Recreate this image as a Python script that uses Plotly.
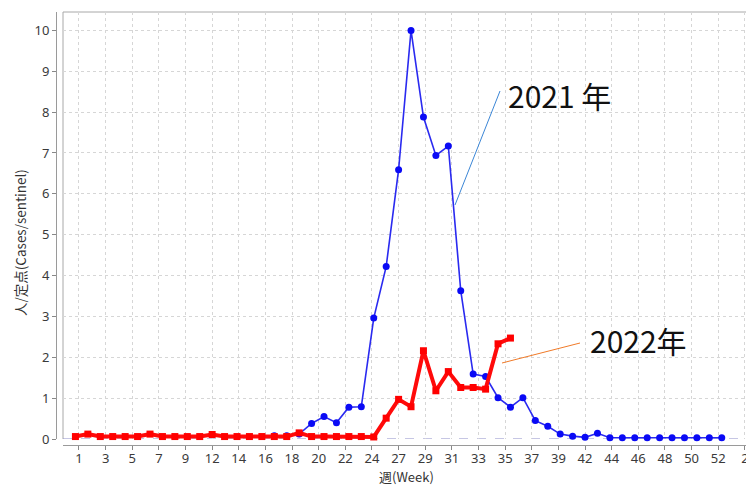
import plotly.graph_objects as go

# ---- data ----
weeks_2021 = list(range(17, 54))
cases_2021 = [0.08, 0.08, 0.12, 0.38, 0.55, 0.40, 0.78, 0.79, 2.96, 4.22,
              6.59, 10.0, 7.88, 6.94, 7.17, 3.63, 1.59, 1.53, 1.01, 0.78,
              1.01, 0.45, 0.31, 0.12, 0.07, 0.04, 0.14,
              0.03, 0.03, 0.03, 0.03, 0.03, 0.03, 0.03, 0.03, 0.03, 0.03]

weeks_2022 = list(range(1, 37))
cases_2022 = [0.06, 0.12, 0.06, 0.06, 0.06, 0.06, 0.12, 0.06, 0.06, 0.06,
              0.06, 0.11, 0.06, 0.06, 0.06, 0.06, 0.06, 0.06, 0.15, 0.06,
              0.06, 0.06, 0.06, 0.06, 0.05, 0.51, 0.97, 0.79, 2.16, 1.18,
              1.65, 1.26, 1.26, 1.22, 2.33, 2.47]

tick_labels = ["1", "3", "5", "7", "9", "12", "14", "16", "18", "20", "22", "24",
               "27", "29", "31", "33", "35", "37", "39", "42", "44", "46", "48",
               "50", "52", "2"]
# ticks every 15 days, first tick 2 days into week 1
tick_vals = [1 + (2 + 15 * i) / 7 for i in range(len(tick_labels))]

W, H = 746, 485
def px(x):
    return x / W
def py(y):
    return 1 - y / H

fig = go.Figure()
fig.add_trace(go.Scatter(
    x=weeks_2021, y=cases_2021, mode="lines+markers", name="2021",
    line=dict(color="#2a2af0", width=1.6),
    marker=dict(symbol="circle", size=7, color="#0a0af5"),
    cliponaxis=False, showlegend=False))
fig.add_trace(go.Scatter(
    x=weeks_2022, y=cases_2022, mode="lines+markers", name="2022",
    line=dict(color="#ff0a0a", width=4),
    marker=dict(symbol="square", size=7, color="#ff0000"),
    cliponaxis=False, showlegend=False))

tickfont = dict(family="Noto Sans, DejaVu Sans, sans-serif", size=13, color="#3a3a3a")

fig.update_layout(
    width=W, height=H,
    margin=dict(l=0, r=0, t=0, b=0),
    paper_bgcolor="white", plot_bgcolor="white",
    xaxis=dict(
        domain=[px(63), 1.0], range=[0.0, 54.95],
        anchor="free", position=py(445),
        tickmode="array", tickvals=tick_vals, ticktext=tick_labels,
        ticks="outside", ticklen=4, tickcolor="#888888",
        ticklabeloverflow="allow", ticklabelstandoff=-3,
        showline=True, linecolor="#9a9a9a", linewidth=1,
        showgrid=True, gridcolor="#d6d6d6", griddash="dot", gridwidth=1,
        zeroline=False, tickfont=tickfont, automargin=False,
    ),
    yaxis=dict(
        domain=[py(439), py(12)], range=[0, 10.45],
        anchor="free", position=px(56),
        tickmode="array", tickvals=list(range(0, 11)),
        ticks="outside", ticklen=4, tickcolor="#888888",
        showline=True, linecolor="#9a9a9a", linewidth=1,
        showgrid=True, gridcolor="#d6d6d6", griddash="dot", gridwidth=1,
        zeroline=False, tickfont=tickfont, automargin=False,
    ),
)

# plot outline (left and top) and dashed zero baseline
fig.add_shape(type="line", xref="paper", yref="paper",
              x0=px(63), x1=1.02, y0=py(12), y1=py(12),
              line=dict(color="#a8a8a8", width=1), layer="below")
fig.add_shape(type="line", xref="paper", yref="paper",
              x0=px(63), x1=px(63), y0=py(12), y1=py(439),
              line=dict(color="#a8a8a8", width=1), layer="below")
fig.add_shape(type="line", xref="paper", yref="y",
              x0=px(63), x1=1.02, y0=0, y1=0,
              line=dict(color="#8c8cc8", width=1, dash="dash"), layer="below")

# leader lines for labels
fig.add_shape(type="line", xref="paper", yref="paper",
              x0=px(455), y0=py(205), x1=px(500), y1=py(91),
              line=dict(color="#3b86d6", width=1))
fig.add_shape(type="line", xref="paper", yref="paper",
              x0=px(502), y0=py(363), x1=px(580), y1=py(343),
              line=dict(color="#f07a28", width=1))

labfont = dict(family="Noto Sans CJK JP, sans-serif", size=30, color="#111111")
fig.add_annotation(text="2021 年", xref="paper", yref="paper",
                   x=px(506), y=py(95), xanchor="left", yanchor="middle",
                   showarrow=False, font=labfont)
fig.add_annotation(text="2022年", xref="paper", yref="paper",
                   x=px(588), y=py(340), xanchor="left", yanchor="middle",
                   showarrow=False, font=labfont)

# axis titles
fig.add_annotation(text="人/定点(Cases/sentinel)", xref="paper", yref="paper",
                   x=px(20), y=py(243), textangle=-90, showarrow=False,
                   xanchor="center", yanchor="middle",
                   font=dict(family="Noto Sans CJK JP, sans-serif", size=13.5,
                             color="#333333"))
fig.add_annotation(text="週(Week)", xref="paper", yref="paper",
                   x=px(406), y=py(476.5), showarrow=False,
                   xanchor="center", yanchor="middle", borderpad=0,
                   font=dict(family="Noto Sans CJK JP, sans-serif", size=13,
                             color="#333333"))

fig.write_html("out.html",
               config={"displayModeBar": False},
               post_script="document.body.style.margin='0';"
                           "document.body.style.overflow='hidden';")
